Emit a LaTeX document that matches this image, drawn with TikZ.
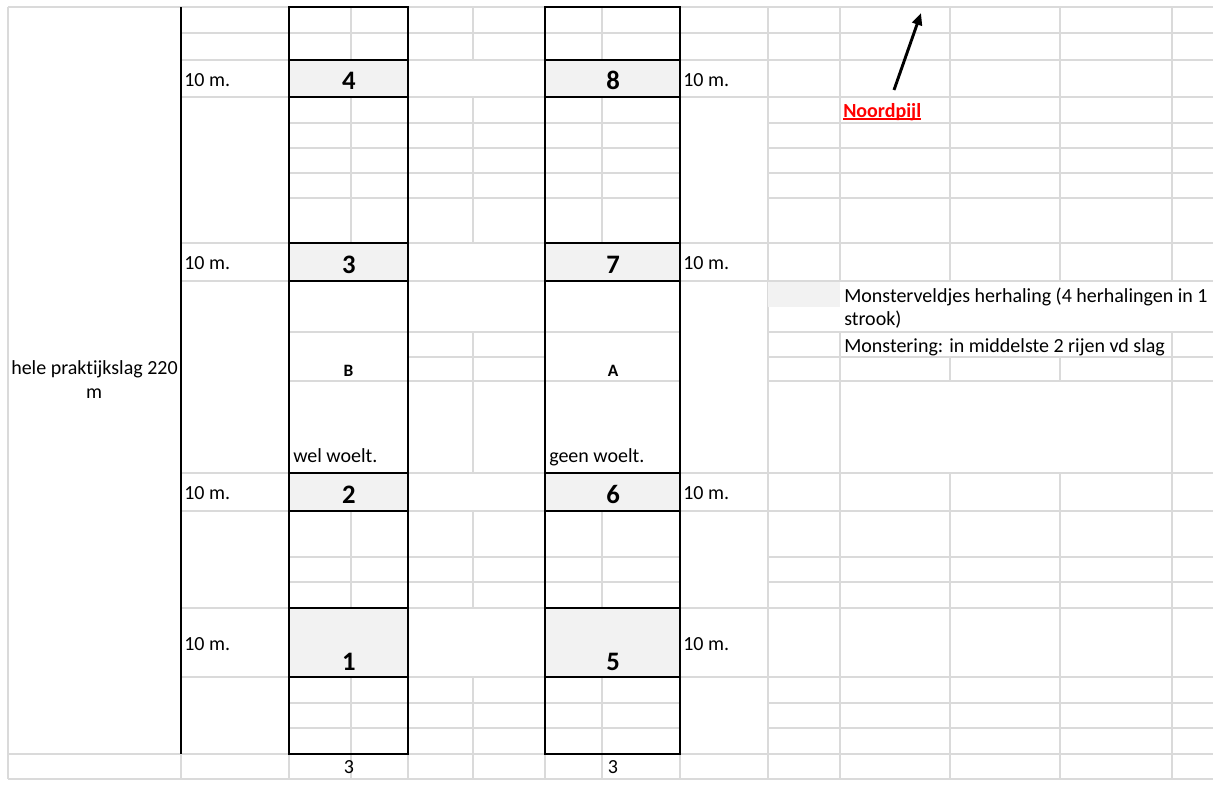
\documentclass[tikz,border=0pt]{standalone}
\usepackage{fontspec}
\setmainfont[Ligatures={NoCommon}]{Carlito}
\usetikzlibrary{arrows.meta}
\definecolor{gridc}{HTML}{DADADA}
\definecolor{cellfill}{HTML}{F2F2F2}
\definecolor{nred}{HTML}{FF0000}
\begin{document}
\begin{tikzpicture}[x=0.75pt,y=-0.75pt,
  gl/.style={draw=gridc,line width=0.8pt},
  stripbox/.style={draw=black,line width=1.9pt},
  txt/.style={inner sep=0pt,font=\fontsize{15}{17}\selectfont},
  num/.style={inner sep=0pt,font=\fontsize{20}{22}\selectfont\bfseries},
  letter/.style={inner sep=0pt,font=\fontsize{13}{15}\selectfont\bfseries}]
\useasboundingbox (0,0) rectangle (1213,785);
\fill[white] (0,0) rectangle (1213,785);
% ---------- gray cells ----------
\foreach \a/\b in {60/97,243/281,473/511,608/677}{
  \fill[cellfill] (289,\a) rectangle (408,\b);
  \fill[cellfill] (545,\a) rectangle (680,\b);
}
% ---------- horizontal grid lines ----------
\foreach \y in {7,754,779} \draw[gl] (8,\y) -- (1213,\y);
\foreach \y in {33,60,97,243,281,473,511,608,677} \draw[gl] (181,\y) -- (1213,\y);
\foreach \y in {123,148,173,198,332,381,557,582,703,728}{
  \draw[gl] (289,\y) -- (680,\y);
  \draw[gl] (768,\y) -- (1213,\y);
}
\draw[gl] (408,357) -- (545,357);
\draw[gl] (768,357) -- (1213,357);
% ---------- vertical grid lines ----------
\draw[gl] (8,7) -- (8,779);
\foreach \x in {181,289,408,545,680} \draw[gl] (\x,754) -- (\x,779);
\foreach \x in {351,602}{
  \draw[gl] (\x,7) -- (\x,60);
  \draw[gl] (\x,97) -- (\x,243);
  \draw[gl] (\x,511) -- (\x,608);
  \draw[gl] (\x,677) -- (\x,779);
}
\draw[gl] (473,7) -- (473,60);
\draw[gl] (473,97) -- (473,243);
\draw[gl] (473,332) -- (473,473);
\draw[gl] (473,511) -- (473,608);
\draw[gl] (473,677) -- (473,779);
\draw[gl] (768,7) -- (768,779);
\foreach \x in {840,1172}{
  \draw[gl] (\x,7) -- (\x,281);
  \draw[gl] (\x,332) -- (\x,779);
}
\foreach \x in {950,1060}{
  \draw[gl] (\x,7) -- (\x,281);
  \draw[gl] (\x,357) -- (\x,381);
  \draw[gl] (\x,473) -- (\x,779);
}
% legend gray cell
\fill[cellfill] (768.4,281.5) rectangle (840,307);
% ---------- black lines ----------
\draw[black,line width=0.9pt] (181,7) -- (181,754);
\foreach \l/\r in {289/408,545/680}{
  \draw[stripbox] (\l,7) rectangle (\r,754);
  \foreach \y in {60,97,243,281,473,511,608,677}
    \draw[stripbox] (\l,\y) -- (\r,\y);
}
% ---------- texts ----------
\node[txt,anchor=base] (hele) at (94.5,374) {hele praktijkslag 220};
\node[txt,anchor=base] (helem) at (94,398) {m};
\node[txt,anchor=base west] (l4) at (184,86) {10 m.};
\node[txt,anchor=base west] (l3) at (184,269) {10 m.};
\node[txt,anchor=base west] (l2) at (184,499) {10 m.};
\node[txt,anchor=base west] (l1) at (184,650) {10 m.};
\node[txt,anchor=base west] (r8) at (683,86) {10 m.};
\node[txt,anchor=base west] (r7) at (683,269) {10 m.};
\node[txt,anchor=base west] (r6) at (683,499) {10 m.};
\node[txt,anchor=base west] (r5) at (683,650) {10 m.};
\node[num,anchor=base] (n4) at (349,89) {4};
\node[num,anchor=base] (n3) at (349,273) {3};
\node[num,anchor=base] (n2) at (349,503) {2};
\node[num,anchor=base] (n1) at (349,670) {1};
\node[num,anchor=base] (n8) at (613,89) {8};
\node[num,anchor=base] (n7) at (613,273) {7};
\node[num,anchor=base] (n6) at (613,503) {6};
\node[num,anchor=base] (n5) at (613,670) {5};
\node[letter,anchor=base] (B) at (348.5,376) {B};
\node[letter,anchor=base] (A) at (613,376) {A};
\node[txt,anchor=base west] (wel) at (293,462) {wel woelt.};
\node[txt,anchor=base west] (geen) at (549,462) {geen woelt.};
\node[txt,anchor=base] (w1) at (349,773) {3};
\node[txt,anchor=base] (w2) at (613,773) {3};
\node[txt,anchor=base west] (leg1) at (844,302) {Monsterveldjes herhaling (4 herhalingen in 1};
\node[txt,anchor=base west] (leg1b) at (844,325) {strook)};
\node[txt,anchor=base west] (leg2) at (844,352) {Monstering: in middelste 2 rijen vd slag};
\node[txt,anchor=base west,text=nred,font=\fontsize{15}{17}\selectfont\bfseries] (noord) at (843,117) {Noordpijl};
\draw[nred,line width=1.2pt] ([yshift=-1.6pt]noord.base west) -- ([yshift=-1.6pt]noord.base east);
% ---------- north arrow ----------
\coordinate (ntail) at (894,90);
\coordinate (nhead) at (921,13);
\draw[line width=2.2pt,-{Triangle[length=9pt,width=7.5pt]}] (ntail) -- (nhead);
\end{tikzpicture}
\end{document}
